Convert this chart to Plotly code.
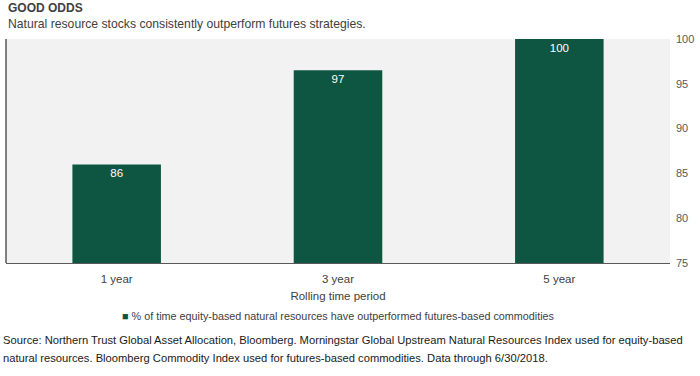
import plotly.graph_objects as go

categories = ["1 year", "3 year", "5 year"]
values = [86, 96.5, 100]
labels = ["86", "97", "100"]
y_ticks = [75, 80, 85, 90, 95, 100]

series_name = "% of time equity-based natural resources have outperformed futures-based commodities"
title = "GOOD ODDS"
subtitle = "Natural resource stocks consistently outperform futures strategies."
source_lines = [
    "Source: Northern Trust Global Asset Allocation, Bloomberg. Morningstar Global Upstream Natural Resources Index used for equity-based",
    "natural resources. Bloomberg Commodity Index used for futures-based commodities. Data through 6/30/2018.",
]

FONT = "Liberation Sans, Arial, sans-serif"
BAR = "#0E5641"
TXT = "#404040"

fig = go.Figure()
fig.add_trace(go.Bar(
    x=categories, y=values, name=series_name,
    marker=dict(color=BAR, line=dict(width=0)),
    text=labels, textposition="inside", insidetextanchor="end",
    textfont=dict(color="white", size=11.5, family=FONT),
    showlegend=False,
))

annotations = [
    dict(text="<b>" + title + "</b>", xref="paper", yref="paper", x=0.0, y=1,
         xanchor="left", yanchor="bottom", yshift=22, xshift=0, showarrow=False,
         font=dict(family=FONT, size=12, color=TXT)),
    dict(text=subtitle, xref="paper", yref="paper", x=0.0, y=1,
         xanchor="left", yanchor="bottom", yshift=6, showarrow=False,
         font=dict(family=FONT, size=12.2, color=TXT)),
    dict(text="<span style='color:" + BAR + "'>■</span> " + series_name,
         xref="paper", yref="paper", x=0.5, y=0, xanchor="center", yanchor="middle",
         yshift=-53, showarrow=False,
         font=dict(family=FONT, size=10.8, color=TXT)),
]
for i, line in enumerate(source_lines):
    annotations.append(dict(text=line, xref="paper", yref="paper", x=0.0, y=0, xshift=-5,
                            xanchor="left", yanchor="middle", yshift=-77 - 18 * i,
                            showarrow=False, align="left",
                            font=dict(family=FONT, size=11.2, color="#1a1a1a")))

fig.update_layout(
    width=700, height=376,
    margin=dict(l=6, r=28, t=39, b=113),
    paper_bgcolor="white", plot_bgcolor="#F2F2F2",
    bargap=0.6,
    showlegend=False,
    xaxis=dict(showgrid=False, showline=True, linecolor="#595959", linewidth=1,
               tickfont=dict(family=FONT, size=11.5, color=TXT), ticklabelstandoff=5,
               title=dict(text="Rolling time period", font=dict(family=FONT, size=11.5, color=TXT), standoff=8),
               ticks=""),
    yaxis=dict(side="right", range=[75, 100], tickvals=y_ticks, showgrid=False,
               showline=False, zeroline=False, ticks="", ticklabelstandoff=5,
               tickfont=dict(family=FONT, size=11, color="#595959")),
    shapes=[dict(type="line", xref="paper", yref="paper", x0=0, x1=0, y0=0, y1=1,
                 line=dict(color="#595959", width=1.5))],
    annotations=annotations,
)

fig.write_html("out.html", config={"displayModeBar": False},
               post_script="document.body.style.margin='0';")
